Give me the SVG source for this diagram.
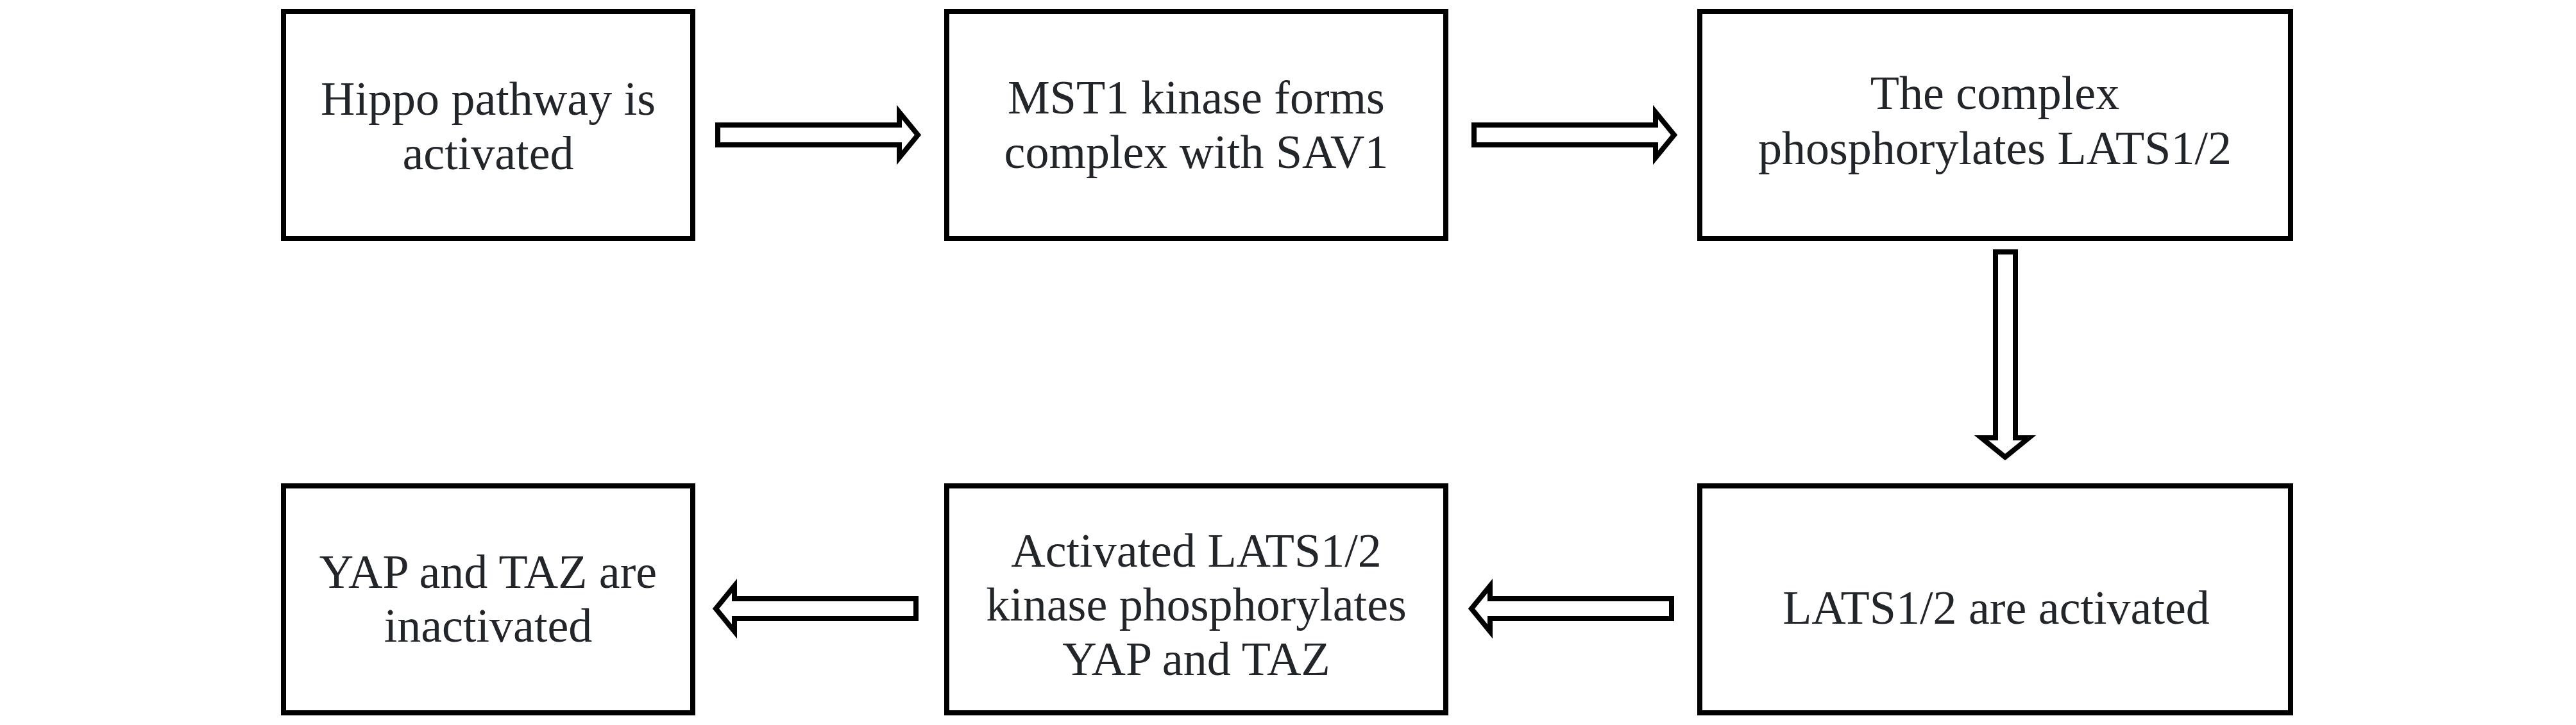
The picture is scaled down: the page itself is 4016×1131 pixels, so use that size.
<svg xmlns="http://www.w3.org/2000/svg" width="4016" height="1131" viewBox="0 0 4016 1131">
<style>
.box{fill:#ffffff;stroke:#000000;stroke-width:8}
.arr{fill:#ffffff;stroke:#000000;stroke-width:8;stroke-linejoin:miter;stroke-miterlimit:10}
.t{font-family:"Liberation Serif","Times New Roman",serif;font-size:74px;fill:#22262a;text-anchor:middle}
</style>
<rect width="4016" height="1131" fill="#ffffff"/>
<g id="connectors">
<path class="arr" d="M1119,195 H1402 V175 L1431,210.5 L1402,246 V226 H1119 Z"/>
<path class="arr" d="M2298,195 H2581 V175 L2610,210.5 L2581,246 V226 H2298 Z"/>
<path class="arr" d="M3111,393 V683 H3089 L3126,713 L3163,683 H3142 V393 Z"/>
<path class="arr" d="M2606,934 H2323 V914 L2294,949.5 L2323,985 V965 H2606 Z"/>
<path class="arr" d="M1428,934 H1145 V914 L1116,949.5 L1145,985 V965 H1428 Z"/>
</g>
<g id="n1">
<rect class="box" x="442" y="18" width="638" height="354"/>
<text class="t" x="761" y="179">Hippo pathway is</text>
<text class="t" x="761" y="264">activated</text>
</g>
<g id="n2">
<rect class="box" x="1476" y="18" width="778" height="354"/>
<text class="t" x="1865" y="177">MST1 kinase forms</text>
<text class="t" x="1865" y="262">complex with SAV1</text>
</g>
<g id="n3">
<rect class="box" x="2650" y="18" width="921" height="354"/>
<text class="t" x="3110" y="170">The complex</text>
<text class="t" x="3110" y="256">phosphorylates LATS1/2</text>
</g>
<g id="n4">
<rect class="box" x="2650" y="758" width="921" height="354"/>
<text class="t" x="3112" y="973">LATS1/2 are activated</text>
</g>
<g id="n5">
<rect class="box" x="1476" y="758" width="778" height="354"/>
<text class="t" x="1865" y="884">Activated LATS1/2</text>
<text class="t" x="1865" y="968">kinase phosphorylates</text>
<text class="t" x="1865" y="1053">YAP and TAZ</text>
</g>
<g id="n6">
<rect class="box" x="442" y="758" width="638" height="354"/>
<text class="t" x="761" y="917">YAP and TAZ are</text>
<text class="t" x="761" y="1001">inactivated</text>
</g>
</svg>
